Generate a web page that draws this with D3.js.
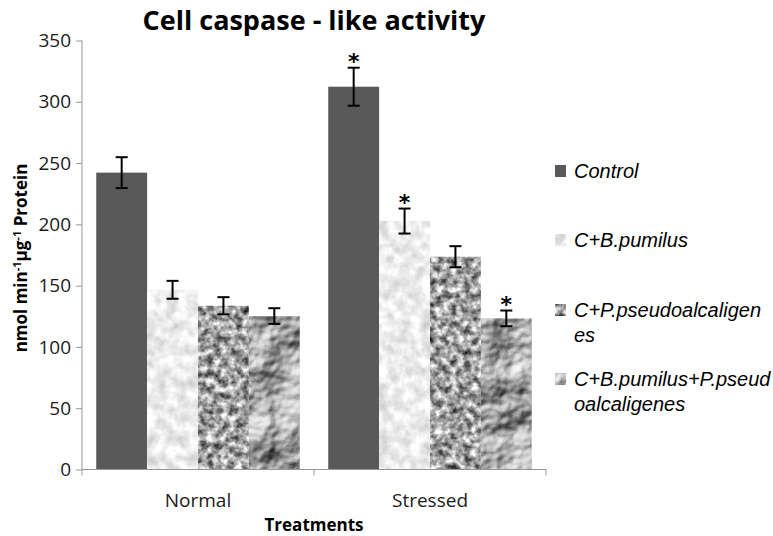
<!DOCTYPE html>
<html>
<head>
<meta charset="utf-8">
<script src="https://cdn.jsdelivr.net/npm/d3@7"></script>
<style>
  html, body { margin: 0; padding: 0; background: #fff; }
  svg { display: block; font-family: "Open Sans", sans-serif; }
</style>
</head>
<body>
<svg id="chart" width="773" height="536"></svg>
<script>
// ---- data ----
const categories = ["Normal", "Stressed"];
const seriesNames = ["Control", "C+B.pumilus", "C+P.pseudoalcaligenes", "C+B.pumilus+P.pseudoalcaligenes"];
const legendLines = [["Control"], ["C+B.pumilus"], ["C+P.pseudoalcaligen", "es"], ["C+B.pumilus+P.pseud", "oalcaligenes"]];
const normalValues = [242.2, 146.6, 133.6, 125.2];
const stressedValues = [312.3, 202.7, 173.6, 123.3];
const normalErrors = [12.6, 7.3, 7.0, 6.4];
const stressedErrors = [15.5, 10.2, 8.6, 6.4];
const normalStars = [false, false, false, false];
const stressedStars = [true, true, false, true];
const yTicks = [0, 50, 100, 150, 200, 250, 300, 350];

const svg = d3.select("#chart");
const defs = svg.append("defs");

// textures (filters)
function grayMatrix(a, b) {
  return `${a} 0 0 0 ${b}  ${a} 0 0 0 ${b}  ${a} 0 0 0 ${b}  0 0 0 0 1`;
}
function mkFilter(id) {
  return defs.append("filter").attr("id", id)
    .attr("filterUnits", "objectBoundingBox")
    .attr("x", 0).attr("y", 0).attr("width", 1).attr("height", 1)
    .attr("color-interpolation-filters", "sRGB");
}
// light mottled
let f = mkFilter("tex1");
f.append("feTurbulence").attr("type", "fractalNoise").attr("baseFrequency", 0.09).attr("numOctaves", 3).attr("seed", 3).attr("result", "n");
f.append("feColorMatrix").attr("type", "matrix").attr("values", grayMatrix(0.35, 0.75));
f.append("feComposite").attr("in2", "SourceGraphic").attr("operator", "in");
// granite
f = mkFilter("tex2");
f.append("feTurbulence").attr("type", "fractalNoise").attr("baseFrequency", 0.14).attr("numOctaves", 3).attr("seed", 7).attr("result", "n");
f.append("feColorMatrix").attr("type", "matrix").attr("values", grayMatrix(1.4, -0.07));
f.append("feComposite").attr("in2", "SourceGraphic").attr("operator", "in");
// rock relief
f = mkFilter("tex3");
f.append("feTurbulence").attr("type", "fractalNoise").attr("baseFrequency", 0.022).attr("numOctaves", 4).attr("seed", 11).attr("result", "n");
f.append("feColorMatrix").attr("in", "n").attr("type", "matrix").attr("values", "0 0 0 0 0  0 0 0 0 0  0 0 0 0 0  1 0 0 0 0").attr("result", "h");
const dl = f.append("feDiffuseLighting").attr("in", "h").attr("surfaceScale", 10).attr("diffuseConstant", 1).attr("lighting-color", "#ffffff").attr("result", "l");
dl.append("feDistantLight").attr("azimuth", 235).attr("elevation", 40);
f.append("feColorMatrix").attr("in", "l").attr("type", "matrix").attr("values", grayMatrix(0.85, 0.12));
f.append("feComposite").attr("in2", "SourceGraphic").attr("operator", "in");

const fills = ["#595959", "#ececec", "#a8a8a8", "#a0a0a0"];
const filters = [null, "url(#tex1)", "url(#tex2)", "url(#tex3)"];

// scales
const y = d3.scaleLinear().domain([0, 350]).range([469.5, 40.5]);
const x0 = d3.scaleBand().domain(categories).range([82, 546]).paddingInner(0).paddingOuter(0);
const x1 = d3.scaleBand().domain(seriesNames).range([0, x0.bandwidth()]).paddingInner(0).paddingOuter(0.28);

const rows = categories.map((c, i) => ({
  cat: c,
  values: i === 0 ? normalValues : stressedValues,
  errors: i === 0 ? normalErrors : stressedErrors,
  stars: i === 0 ? normalStars : stressedStars
}));

// bars
const g = svg.append("g");
rows.forEach(r => {
  seriesNames.forEach((s, j) => {
    const bx = x0(r.cat) + x1(s);
    const rect = g.append("rect")
      .attr("x", bx).attr("y", y(r.values[j]))
      .attr("width", x1.bandwidth()).attr("height", y(0) - y(r.values[j]))
      .attr("fill", fills[j]);
    if (filters[j]) rect.attr("filter", filters[j]);
  });
});

// axes
const yAxis = d3.axisLeft(y).tickValues(yTicks).tickSize(6).tickPadding(5).tickSizeOuter(0);
const ya = svg.append("g").attr("transform", "translate(82,0)").call(yAxis);
ya.select(".domain").attr("stroke", "#969696").attr("d", `M0,${y(350)}V${y(0) + 6}`);
ya.selectAll(".tick line").attr("stroke", "#969696");
ya.selectAll(".tick text").attr("font-size", 19).attr("fill", "#1a1a1a").attr("font-family", "Open Sans");

const xa = svg.append("g");
xa.append("line").attr("x1", 82).attr("x2", 546).attr("y1", y(0)).attr("y2", y(0)).attr("stroke", "#969696");
const bounds = categories.map(c => x0(c)).concat([x0(categories[categories.length - 1]) + x0.bandwidth()]).slice(1);
bounds.forEach(b => xa.append("line").attr("x1", b).attr("x2", b).attr("y1", y(0)).attr("y2", y(0) + 6).attr("stroke", "#969696"));
categories.forEach(c => {
  xa.append("text").attr("x", x0(c) + x0.bandwidth() / 2).attr("y", 506.5)
    .attr("text-anchor", "middle").attr("font-size", 19).attr("fill", "#1a1a1a").text(c);
});

// error bars & stars
rows.forEach(r => {
  seriesNames.forEach((s, j) => {
    const cx = x0(r.cat) + x1(s) + x1.bandwidth() / 2;
    const top = y(r.values[j] + r.errors[j]);
    const bot = y(r.values[j] - r.errors[j]);
    const eg = g.append("g").attr("stroke", "#000").attr("stroke-width", 2);
    eg.append("line").attr("x1", cx).attr("x2", cx).attr("y1", top).attr("y2", bot);
    eg.append("line").attr("x1", cx - 6).attr("x2", cx + 6).attr("y1", top).attr("y2", top);
    eg.append("line").attr("x1", cx - 6).attr("x2", cx + 6).attr("y1", bot).attr("y2", bot);
    if (r.stars[j]) {
      g.append("text").attr("x", cx).attr("y", top - 11 + 12)
        .attr("text-anchor", "middle").attr("font-family", "DejaVu Sans").attr("font-weight", "bold")
        .attr("font-size", 22).attr("fill", "#000").text("*");
    }
  });
});

// title
svg.append("text").attr("x", 314).attr("y", 29.5).attr("text-anchor", "middle")
  .attr("font-size", 27).attr("font-weight", "bold").attr("fill", "#000")
  .text("Cell caspase - like activity");

// x title
svg.append("text").attr("x", 314).attr("y", 531).attr("text-anchor", "middle")
  .attr("font-size", 17).attr("font-weight", "bold").attr("fill", "#000").text("Treatments");

// y title
const yt = svg.append("text").attr("transform", "translate(27,258) rotate(-90)")
  .attr("text-anchor", "middle").attr("font-size", 17).attr("font-weight", "bold").attr("fill", "#000");
yt.append("tspan").text("nmol min");
yt.append("tspan").attr("dy", -6).attr("font-size", 11).text("-1");
yt.append("tspan").attr("dy", 6).text("µg");
yt.append("tspan").attr("dy", -6).attr("font-size", 11).text("-1");
yt.append("tspan").attr("dy", 6).text(" Protein");

// legend
const legendBase = [178, 247, 317, 386];
seriesNames.forEach((s, j) => {
  const lg = svg.append("g");
  const sq = lg.append("rect").attr("x", 555).attr("y", legendBase[j] - 13).attr("width", 11).attr("height", 12).attr("fill", fills[j]);
  if (filters[j]) sq.attr("filter", filters[j]);
  legendLines[j].forEach((ln, k) => {
    lg.append("text").attr("x", 574).attr("y", legendBase[j] + k * 25)
      .attr("font-family", "Liberation Sans").attr("font-size", 20)
      .attr("font-style", "italic").attr("fill", "#000").text(ln);
  });
});
</script>
</body>
</html>
